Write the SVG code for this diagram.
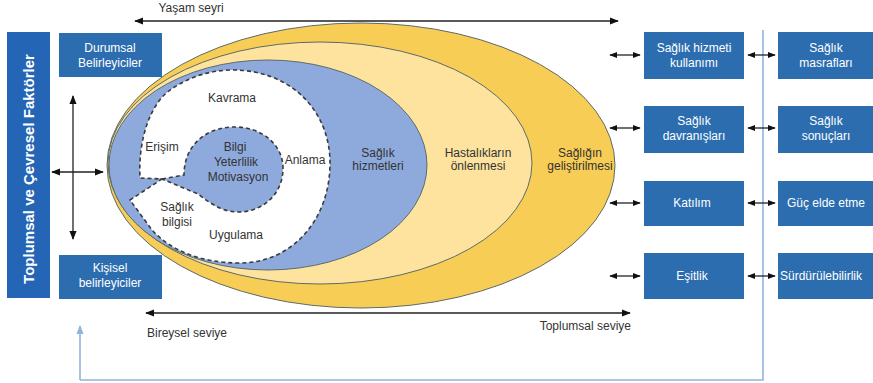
<svg xmlns="http://www.w3.org/2000/svg" width="873" height="383" viewBox="0 0 873 383">
<defs>
<style>
text{font-family:"Liberation Sans",Arial,sans-serif;font-size:12px;}
.lbl{fill:#333;text-anchor:middle;}
.wt{fill:#fff;text-anchor:middle;}
.ws{fill:#fff;text-anchor:start;}
.box{fill:#2c6db0;}
.ring{stroke:#5c6b6b;stroke-width:1;}
.dash{stroke:#3a3a3a;stroke-width:1.6;stroke-dasharray:4 3;}
.blk{stroke:#222;stroke-width:1.3;fill:none;}
.fb{stroke:#8fb5df;stroke-width:1.6;fill:none;}
</style>
<marker id="ah" viewBox="0 0 10 10" refX="9" refY="5" markerWidth="9" markerHeight="9" markerUnits="userSpaceOnUse" orient="auto-start-reverse"><path d="M0,1 L10,5 L0,9 Z" fill="#111"/></marker>
<marker id="as" viewBox="0 0 10 10" refX="9" refY="5" markerWidth="8" markerHeight="8" markerUnits="userSpaceOnUse" orient="auto-start-reverse"><path d="M0,1 L10,5 L0,9 Z" fill="#111"/></marker>
<marker id="ab" viewBox="0 0 10 10" refX="9" refY="5" markerWidth="9" markerHeight="9" markerUnits="userSpaceOnUse" orient="auto"><path d="M0,1 L10,5 L0,9 Z" fill="#8fb5df"/></marker>
</defs>
<rect width="873" height="383" fill="#fff"/>

<g id="connectors">
<path class="fb" d="M80,380 H763 V30"/>
<line class="fb" x1="80" y1="380" x2="80" y2="326" marker-end="url(#ab)"/>
<line class="blk" x1="135" y1="21" x2="618" y2="21" marker-start="url(#ah)" marker-end="url(#ah)"/>
<line class="blk" x1="146" y1="313" x2="630" y2="313" marker-start="url(#ah)" marker-end="url(#ah)"/>
<line class="blk" x1="73" y1="96" x2="73" y2="239" marker-start="url(#ah)" marker-end="url(#ah)"/>
<line class="blk" x1="52" y1="172" x2="103" y2="172" marker-start="url(#ah)" marker-end="url(#ah)"/>
<line class="blk" x1="610" y1="55" x2="640" y2="55" marker-start="url(#as)" marker-end="url(#as)"/>
<line class="blk" x1="610" y1="128" x2="640" y2="128" marker-start="url(#as)" marker-end="url(#as)"/>
<line class="blk" x1="610" y1="203" x2="640" y2="203" marker-start="url(#as)" marker-end="url(#as)"/>
<line class="blk" x1="610" y1="276" x2="640" y2="276" marker-start="url(#as)" marker-end="url(#as)"/>
<line class="blk" x1="748" y1="55" x2="775" y2="55" marker-start="url(#as)" marker-end="url(#as)"/>
<line class="blk" x1="748" y1="128" x2="775" y2="128" marker-start="url(#as)" marker-end="url(#as)"/>
<line class="blk" x1="748" y1="203" x2="775" y2="203" marker-start="url(#as)" marker-end="url(#as)"/>
<line class="blk" x1="748" y1="276" x2="775" y2="276" marker-start="url(#as)" marker-end="url(#as)"/>
</g>

<g id="axis-labels">
<text x="191" y="12" class="lbl">Yaşam seyri</text>
<text x="147" y="337" fill="#333">Bireysel seviye</text>
<text x="631" y="330" fill="#333" text-anchor="end">Toplumsal seviye</text>
</g>

<g id="factors">
<rect x="7" y="32" width="43" height="266" fill="#2465b5"/>
<text transform="translate(34,169) rotate(-90)" class="wt" style="font-size:15px;font-weight:bold">Toplumsal ve Çevresel Faktörler</text>
</g>

<g id="durumsal">
<rect class="box" x="59" y="33" width="103" height="44"/>
<text class="wt" x="110" y="52">Durumsal</text>
<text class="wt" x="110" y="67">Belirleyiciler</text>
</g>
<g id="kisisel">
<rect class="box" x="59" y="255" width="103" height="44"/>
<text class="wt" x="110" y="272">Kişisel</text>
<text class="wt" x="110" y="287">belirleyiciler</text>
</g>

<g id="gelistirme">
<ellipse class="ring" cx="361" cy="165.5" rx="254" ry="142.5" fill="#f8cd55"/>
<text class="lbl" x="580" y="157">Sağlığın</text>
<text class="lbl" x="580" y="170">geliştirilmesi</text>
</g>
<g id="onleme">
<ellipse class="ring" cx="320" cy="163" rx="212" ry="121" fill="#fde39e"/>
<text class="lbl" x="478" y="157">Hastalıkların</text>
<text class="lbl" x="478" y="170">önlenmesi</text>
</g>
<g id="hizmetler">
<ellipse class="ring" cx="268" cy="165" rx="159" ry="105" fill="#8eaadd"/>
<text class="lbl" x="378" y="157">Sağlık</text>
<text class="lbl" x="378" y="170">hizmetleri</text>
</g>
<g id="okuryazarlik">
<path class="dash" fill="#fff" d="M233,70 C290,70 330,110 330,163 C330,222 290,263 240,263 C200,263 170,250 152,230 L130,200 L162,179 L140,178 C138,140 150,102 173,88 C190,77 210,70 233,70 Z"/>
<text class="lbl" x="232" y="102">Kavrama</text>
<text class="lbl" x="162" y="151">Erişim</text>
<text class="lbl" x="305" y="164">Anlama</text>
<text class="lbl" x="177" y="211">Sağlık</text>
<text class="lbl" x="177" y="226">bilgisi</text>
<text class="lbl" x="236" y="239">Uygulama</text>
</g>
<g id="cekirdek">
<path class="dash" fill="#8eaadd" d="M162,179 L184,175 C184,146 205,127 235,127 C262,127 283,145 283,168 C283,195 262,212 238,212 C222,212 210,203 198,194 Z"/>
<text class="lbl" x="235" y="151">Bilgi</text>
<text class="lbl" x="236" y="166">Yeterlilik</text>
<text class="lbl" x="238" y="181">Motivasyon</text>
</g>

<g id="hizmet-kullanimi"><rect class="box" x="644" y="32" width="100" height="47"/><text class="wt" x="694" y="52">Sağlık hizmeti</text><text class="wt" x="694" y="67">kullanımı</text></g>
<g id="davranislar"><rect class="box" x="644" y="106" width="100" height="47"/><text class="wt" x="694" y="125">Sağlık</text><text class="wt" x="694" y="140">davranışları</text></g>
<g id="katilim"><rect class="box" x="644" y="181" width="100" height="45"/><text class="wt" x="692" y="207">Katılım</text></g>
<g id="esitlik"><rect class="box" x="644" y="253" width="100" height="46"/><text class="wt" x="692" y="280">Eşitlik</text></g>
<g id="masraflar"><rect class="box" x="778" y="32" width="100" height="47"/><text class="wt" x="826" y="52">Sağlık</text><text class="wt" x="826" y="67">masrafları</text></g>
<g id="sonuclar"><rect class="box" x="778" y="106" width="100" height="47"/><text class="wt" x="826" y="125">Sağlık</text><text class="wt" x="826" y="140">sonuçları</text></g>
<g id="guc"><rect class="box" x="778" y="181" width="100" height="45"/><text class="ws" x="787" y="207">Güç elde etme</text></g>
<g id="surdurulebilirlik"><rect class="box" x="778" y="253" width="100" height="46"/><text class="ws" x="780" y="280">Sürdürülebilirlik</text></g>
</svg>
